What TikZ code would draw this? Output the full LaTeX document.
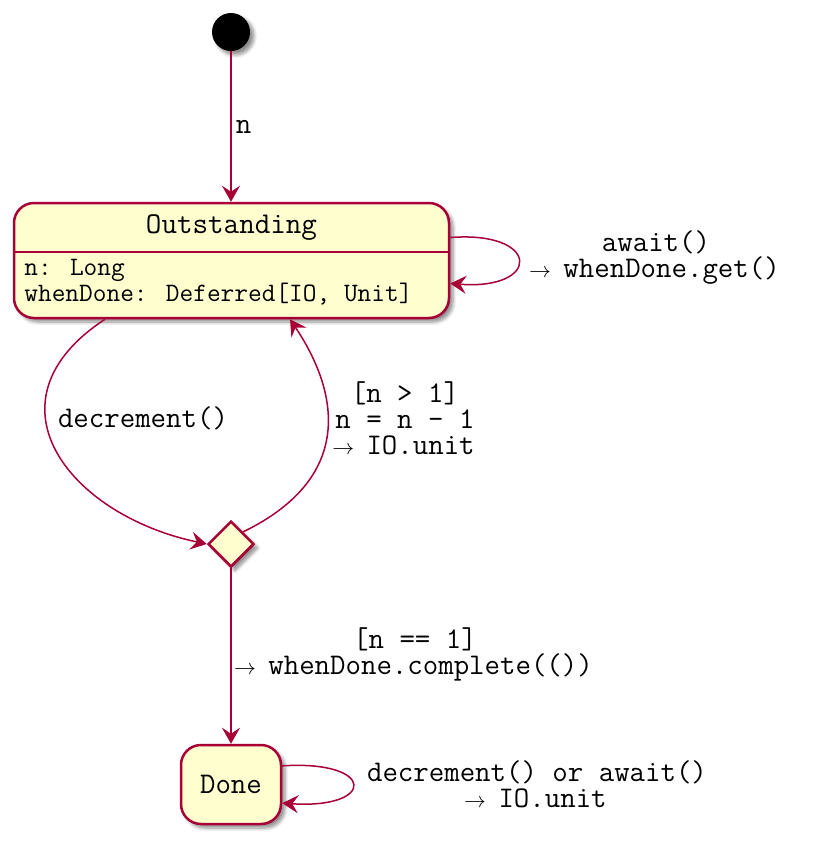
\documentclass[tikz,border=0pt]{standalone}
\usepackage{fontspec}
\usepackage{tikz}
\usetikzlibrary{calc,shapes.geometric,arrows.meta,shadows.blur}
\definecolor{umlfill}{HTML}{FEFECE}
\definecolor{umlred}{HTML}{A80036}
\tikzstyle{arrow} = [draw=umlred, line width=0.75pt, -{Stealth[length=8pt,width=9pt,inset=3pt]}]
\newcommand{\ra}{\makebox[0.525em]{$\scriptstyle\rightarrow$}}

\begin{document}
\begin{tikzpicture}[x=0.5pt, y=-0.5pt]
    \tikzstyle{umlshadow}=[blur shadow={shadow xshift=2pt, shadow yshift=-2pt, shadow blur steps=6, shadow opacity=45}]
    \tikzstyle{statebox}=[rectangle, rounded corners=10pt, draw=umlred, fill=umlfill, line width=1.25pt, inner sep=0pt, umlshadow]
    \tikzstyle{lab}=[font=\ttfamily\fontsize{15}{13}\selectfont, align=center, inner sep=0pt]
    \tikzstyle{attr}=[font=\ttfamily\fontsize{13.3}{11.5}\selectfont, align=left, inner sep=0pt]

    \useasboundingbox (0,0) rectangle (834,848);

    % Draw the initial state and the states
    \node[circle, fill=black, minimum size=19pt, inner sep=0pt, umlshadow] (start) at (231,32) {};
    \node[statebox, minimum width=217.5pt, minimum height=57.5pt] (out) at (231.5,260.5) {};
    \coordinate (div) at (0,252);
    \draw[umlred, line width=1.25pt] (out.west |- div) -- (out.east |- div);
    \node[lab, anchor=base, font=\ttfamily\fontsize{15.1}{13}\selectfont] (out-title) at (231.5,233) {Outstanding};
    \node[attr, anchor=west] (out-attr) at (24,282) {n: Long\\whenDone: Deferred[IO, Unit]};

    \node[diamond, draw=umlred, fill=umlfill, line width=1.25pt, minimum width=23pt, minimum height=23pt, inner sep=0pt, umlshadow] (choice) at (231,544) {};
    \node[statebox, minimum width=50pt, minimum height=39.5pt, font=\ttfamily\fontsize{15}{13}\selectfont] (done) at (231,784.5) {Done};

    % Draw the transitions
    \draw[arrow] (start) -- (start |- out.north) node[midway, right, lab, inner sep=2pt] {n};
    \draw[arrow] (out.6) .. controls +(91,-7) and +(91,7) .. (out.-6);
    \draw[arrow] ($(out.south)+(-126.5,0)$) .. controls +(-125,82) and +(-138,-29) .. (choice.west);
    \draw[arrow] (choice.north east) .. controls +(117,-57) and +(45,67) .. ($(out.south)+(58.5,0)$);
    \draw[arrow] (choice) -- (done);
    \draw[arrow] (done.20) .. controls +(94,-6) and +(94,6) .. (done.-20);

    % Transition labels
    \node[lab] (await-lab) at (656,258) {await()\\\ra{} whenDone.get()};
    \node[lab] (dec-lab) at (143,418) {decrement()};
    \node[lab] (more-lab) at (405,418) {[n > 1]\\n = n - 1\\\ra{} IO.unit};
    \node[lab] (last-lab) at (415,654) {[n == 1]\\\ra{} whenDone.complete(())};
    \node[lab] (done-lab) at (537,784) {decrement() or await()\\\ra{} IO.unit};
\end{tikzpicture}
\end{document}
